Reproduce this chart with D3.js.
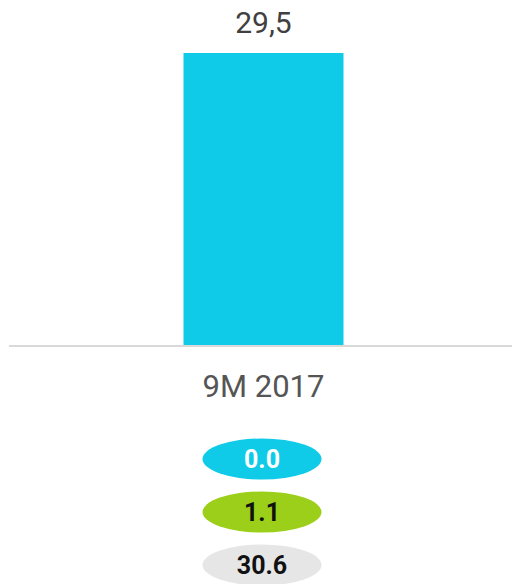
<!DOCTYPE html>
<html>
<head>
<meta charset="utf-8">
<script src="https://cdn.jsdelivr.net/npm/d3@7"></script>
<style>
  html, body { margin: 0; padding: 0; background: #fff; }
  svg { display: block; font-family: Roboto, sans-serif; }
</style>
</head>
<body>
<div id="chart"></div>
<script>
const categories = ["9M 2017"];
const values = [29.5];
const pillValues = [0.0, 1.1, 30.6];
const pillColors = ["#10cbe8", "#9ccf19", "#e6e6e6"];
const pillText = ["#ffffff", "#111111", "#111111"];

const width = 512;
const height = 584;
const baseY = 345;

const svg = d3.select("#chart").append("svg")
    .attr("width", width)
    .attr("height", height);

// bar scales
let x = d3.scaleBand()
    .domain(categories)
    .range([15, 512])
    .padding(0.513);
let y = d3.scaleLinear()
    .domain([0, d3.max(values)])
    .range([baseY, 53]);

const fmt = v => d3.format(".1f")(v).replace(".", ",");

svg.selectAll(".bar")
    .data(values)
    .enter().append("rect")
    .attr("class", "bar")
    .attr("x", (d, i) => x(categories[i]))
    .attr("width", x.bandwidth())
    .attr("y", d => y(d))
    .attr("height", d => baseY - y(d))
    .attr("fill", "#10cbe8");

// value label on top
svg.selectAll(".val")
    .data(values)
    .enter().append("text")
    .attr("x", (d, i) => x(categories[i]) + x.bandwidth() / 2)
    .attr("y", d => y(d) - 20)
    .attr("text-anchor", "middle")
    .attr("font-size", 30)
    .attr("fill", "#404040")
    .text(d => fmt(d));

// baseline
svg.append("line")
    .attr("x1", 9).attr("x2", 512)
    .attr("y1", baseY + 1).attr("y2", baseY + 1)
    .attr("stroke", "#d9d9d9")
    .attr("stroke-width", 2);

// category labels
svg.selectAll(".cat")
    .data(categories)
    .enter().append("text")
    .attr("x", d => x(d) + x.bandwidth() / 2)
    .attr("y", 397)
    .attr("text-anchor", "middle")
    .attr("font-size", 31)
    .attr("fill", "#555555")
    .text(d => d);

// pills below
const pillY = d3.scalePoint()
    .domain(d3.range(pillValues.length))
    .range([459, 565]);
const cx = x(categories[0]) + x.bandwidth() / 2 - 1.5;

const pills = svg.selectAll(".pill")
    .data(pillValues)
    .enter().append("g")
    .attr("transform", (d, i) => "translate(" + cx + "," + pillY(i) + ")");

pills.append("ellipse")
    .attr("rx", 59.5)
    .attr("ry", 20.5)
    .attr("fill", (d, i) => pillColors[i]);

pills.append("text")
    .attr("y", 9)
    .attr("text-anchor", "middle")
    .attr("font-size", 25)
    .attr("font-weight", "bold")
    .attr("fill", (d, i) => pillText[i])
    .text(d => d3.format(".1f")(d));
</script>
</body>
</html>
